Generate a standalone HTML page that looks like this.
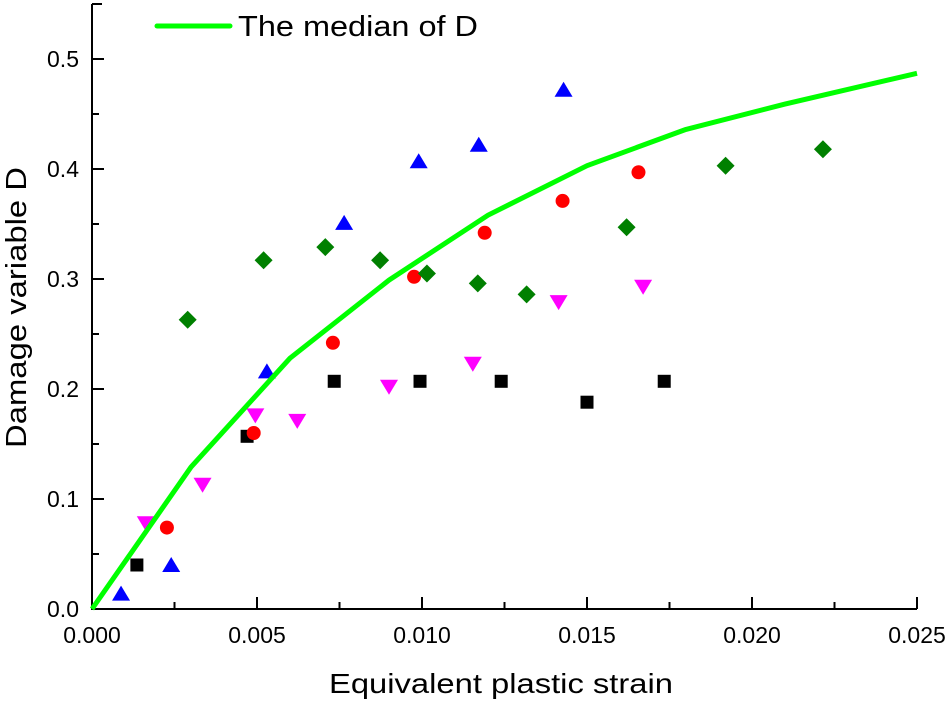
<!DOCTYPE html>
<html><head><meta charset="utf-8"><style>
body{margin:0;background:#fff}
svg text{font-family:"Liberation Sans",Arial,sans-serif;fill:#000}
</style></head><body>
<svg id="c" width="952" height="703"></svg>
<script>
const xTicks=[0,0.005,0.010,0.015,0.020,0.025];
const xTickLabels=["0.000","0.005","0.010","0.015","0.020","0.025"];
const yTicks=[0,0.1,0.2,0.3,0.4,0.5];
const yTickLabels=["0.0","0.1","0.2","0.3","0.4","0.5"];
const medianX=[0,0.003,0.006,0.009,0.012,0.015,0.018,0.021,0.025];
const medianY=[0,0.129,0.228,0.299,0.358,0.403,0.436,0.459,0.487];
const sqX=[0.00136,0.0047,0.00734,0.00994,0.0124,0.0150,0.01734];
const sqY=[0.040,0.157,0.207,0.207,0.207,0.188,0.207];
const ciX=[0.00227,0.0049,0.0073,0.00976,0.0119,0.01426,0.01656];
const ciY=[0.074,0.160,0.242,0.302,0.342,0.371,0.397];
const upX=[0.00088,0.0024,0.0053,0.00764,0.0099,0.01172,0.01429];
const upY=[0.014,0.040,0.216,0.351,0.407,0.422,0.472];
const dnX=[0.00163,0.00335,0.00495,0.00622,0.0090,0.01154,0.01414,0.0167];
const dnY=[0.078,0.113,0.176,0.171,0.202,0.223,0.279,0.293];
const diX=[0.0029,0.0052,0.00707,0.00873,0.01015,0.01169,0.01317,0.0162,0.0192,0.02215];
const diY=[0.263,0.317,0.329,0.317,0.305,0.296,0.286,0.347,0.403,0.418];

const NS="http://www.w3.org/2000/svg",svg=document.getElementById('c');
const X0=92,X1=917,Y0=609,Y1=59;
const sx=v=>X0+v/0.025*(X1-X0), sy=v=>Y0-v/0.5*(Y0-Y1);
function mk(t,a,p){const e=document.createElementNS(NS,t);for(const k in a)e.setAttribute(k,a[k]);(p||svg).appendChild(e);return e;}

const ax=mk('g',{});


mk('path',{d:`M${X0} 4 L${X0} ${Y0} L${X1} ${Y0} M${X0} 4 L${X0+10} 4`,stroke:'#000','stroke-width':2,fill:'none'},ax);
xTicks.forEach((v,i)=>{
  mk('line',{x1:sx(v),x2:sx(v),y1:Y0,y2:Y0-12,stroke:'#000','stroke-width':2},ax);
  if(i<xTicks.length-1){const m=sx(v+0.0025);mk('line',{x1:m,x2:m,y1:Y0,y2:Y0-7,stroke:'#000','stroke-width':2},ax);}
  const t=mk('text',{x:sx(v),y:643,'text-anchor':'middle','font-size':23},ax);
  t.textContent=xTickLabels[i];
  
  
});
yTicks.forEach((v,i)=>{
  mk('line',{x1:X0,x2:X0+12,y1:sy(v),y2:sy(v),stroke:'#000','stroke-width':2},ax);
  const m=sy(v+0.05);mk('line',{x1:X0,x2:X0+7,y1:m,y2:m,stroke:'#000','stroke-width':2},ax);
  const t=mk('text',{x:79,y:sy(v)+8,'text-anchor':'end','font-size':23},ax);
  t.textContent=yTickLabels[i];
  
  
});
const xt=mk('text',{x:329,y:693,'font-size':28,textLength:344,lengthAdjust:'spacingAndGlyphs'});
xt.textContent='Equivalent plastic strain';


const yt=mk('text',{x:-141,y:0,'font-size':29,textLength:281,lengthAdjust:'spacingAndGlyphs',transform:'translate(26,307) rotate(-90)'});
yt.textContent='Damage variable D';



function pts(xs,ys,name,draw){xs.forEach((v,i)=>{const e=draw(sx(v),sy(ys[i]));
  
  });}
pts(sqX,sqY,'black-square-point',(x,y)=>mk('rect',{x:x-6.5,y:y-6.5,width:13,height:13,fill:'#000'}));
pts(ciX,ciY,'red-circle-point',(x,y)=>mk('circle',{cx:x,cy:y,r:7,fill:'#f00'}));
pts(upX,upY,'blue-triangle-point',(x,y)=>mk('polygon',{points:`${x},${y-8} ${x-9},${y+7} ${x+9},${y+7}`,fill:'#00f'}));
pts(dnX,dnY,'magenta-triangle-point',(x,y)=>mk('polygon',{points:`${x},${y+8} ${x-9},${y-7} ${x+9},${y-7}`,fill:'#f0f'}));
pts(diX,diY,'green-diamond-point',(x,y)=>mk('polygon',{points:`${x},${y-9} ${x+9},${y} ${x},${y+9} ${x-9},${y}`,fill:'#008000'}));

const ml=mk('polyline',{points:medianX.map((v,i)=>sx(v)+','+sy(medianY[i])).join(' '),fill:'none',stroke:'#0f0','stroke-width':5,'stroke-linejoin':'round'});



const lg=mk('g',{});


mk('line',{x1:157,x2:230,y1:26,y2:26,stroke:'#0f0','stroke-width':5,'stroke-linecap':'round'},lg);
const lt=mk('text',{x:238,y:36,'font-size':29,textLength:240,lengthAdjust:'spacingAndGlyphs'},lg);lt.textContent='The median of D';
</script>
</body></html>
